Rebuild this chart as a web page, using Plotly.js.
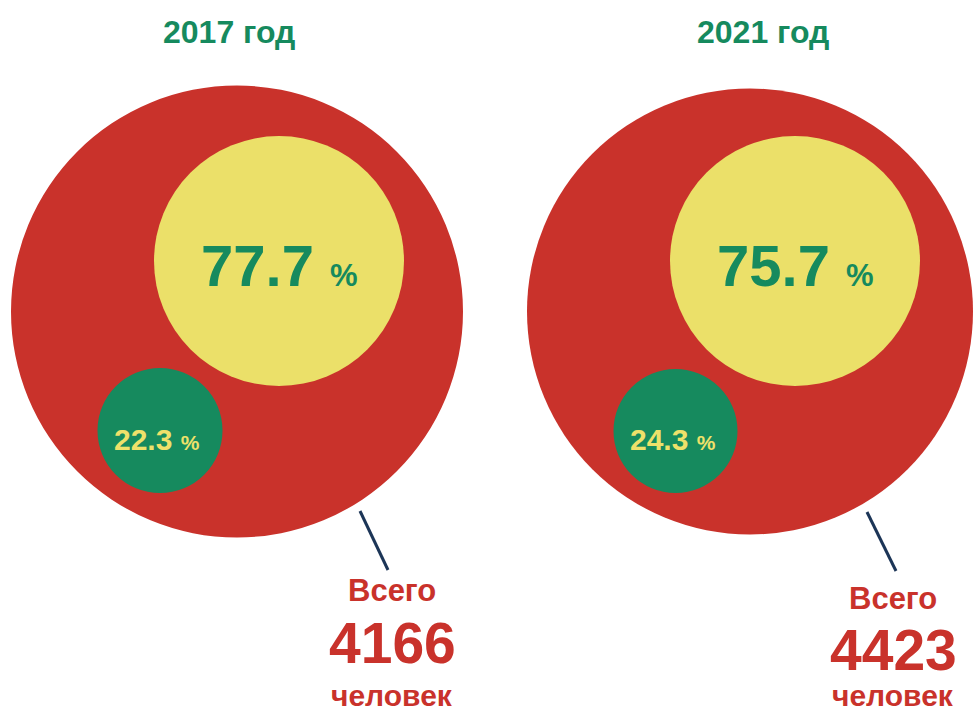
<!DOCTYPE html>
<html>
<head>
<meta charset="utf-8">
<script src="https://cdn.plot.ly/plotly-3.0.1.min.js"></script>
<style>html,body{margin:0;padding:0;background:#fff}#chart{width:975px;height:715px}</style>
</head>
<body>
<div id="chart"></div>
<script>
// ---- data ----
const years = ['2017 год', '2021 год'];
const majorShare = [77.7, 75.7];
const minorShare = [22.3, 24.3];
const totals = [4166, 4423];
const totalLabel = 'Всего';
const unitLabel = 'человек';

// ---- style ----
const RED = '#C9322B', YELLOW = '#EBE069', GREEN = '#168A5E', YTEXT = '#EEE16A', NAVY = '#1C3557';
const FONT = 'Liberation Sans, Arial, sans-serif';

// ---- layout geometry (pixel-like coords) ----
const groups = [
  {cx: 237, cy: 311.5, r: 226, yx: 279, yy: 261, yr: 125, gx: 160, gy: 430.5, gr: 62.5,
   title: 229, line: [360, 511, 388, 570], tx: 392, ty: [590, 643, 695]},
  {cx: 750, cy: 311.5, r: 223, yx: 795, yy: 261, yr: 125, gx: 675.5, gy: 431, gr: 62,
   title: 763, line: [867, 512, 896, 571], tx: 893, ty: [598, 650, 695]}
];

const shapes = [], annotations = [];
groups.forEach((g, i) => {
  const circ = (x, y, r, c) => ({type: 'circle', xref: 'x', yref: 'y', x0: x - r, x1: x + r, y0: y - r, y1: y + r,
    fillcolor: c, line: {width: 0}, layer: 'below'});
  shapes.push(circ(g.cx, g.cy, g.r, RED));
  shapes.push(circ(g.yx, g.yy, g.yr, YELLOW));
  shapes.push(circ(g.gx, g.gy, g.gr, GREEN));
  shapes.push({type: 'line', xref: 'x', yref: 'y', x0: g.line[0], y0: g.line[1], x1: g.line[2], y1: g.line[3],
    line: {color: NAVY, width: 3}});
  const ann = (x, y, text, size, color) => ({xref: 'x', yref: 'y', x: x, y: y, text: text, showarrow: false,
    xanchor: 'center', yanchor: 'middle', font: {family: FONT, size: size, color: color, weight: 'bold'}});
  annotations.push(ann(g.title, 32, years[i], 32, GREEN));
  annotations.push(ann(g.yx, 265, majorShare[i].toFixed(1) + ' <span style="font-size:31px">%</span>', 58, GREEN));
  annotations.push(ann(g.gx - 3, 439, minorShare[i].toFixed(1) + ' <span style="font-size:21px">%</span>', 30, YTEXT));
  annotations.push(ann(g.tx, g.ty[0], totalLabel, 31, RED));
  annotations.push(ann(g.tx, g.ty[1], String(totals[i]), 57, RED));
  annotations.push(ann(g.tx, g.ty[2], unitLabel, 30, RED));
});

const layout = {
  width: 975, height: 715,
  margin: {l: 0, r: 0, t: 0, b: 0},
  paper_bgcolor: '#fff', plot_bgcolor: '#fff',
  showlegend: false,
  xaxis: {range: [0, 975], visible: false, fixedrange: true},
  yaxis: {range: [715, 0], visible: false, fixedrange: true},
  shapes: shapes,
  annotations: annotations
};

Plotly.newPlot('chart', [{x: [], y: [], type: 'scatter', mode: 'markers', hoverinfo: 'skip'}], layout,
  {staticPlot: true, displayModeBar: false});
</script>
</body>
</html>
